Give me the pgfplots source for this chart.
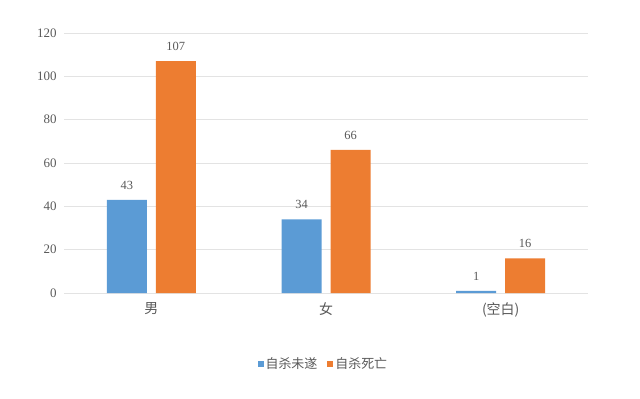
\documentclass[border=0pt]{standalone}
\usepackage{fontspec}
\setmainfont{Liberation Serif}
\newfontfamily\cjk{Noto Sans CJK SC}
\usepackage{pgfplots}
\pgfplotsset{compat=1.18}
\definecolor{cblue}{HTML}{5B9BD5}
\definecolor{corange}{HTML}{ED7D31}
\definecolor{gridc}{HTML}{E3E3E3}
\definecolor{txt}{HTML}{595959}
\begin{document}
\begin{tikzpicture}
\useasboundingbox (0,0) rectangle (640bp,399bp);
\begin{axis}[
  at={(64bp,106bp)}, anchor=south west,
  scale only axis, width=524bp, height=260bp,
  ybar, bar width=40bp,
  xmin=-0.5, xmax=2.5, ymin=0, ymax=120,
  ytick={0,20,...,120},
  xtick=data, xticklabels={男,女,(空白)},
  axis line style={draw=none},
  xmajorgrids=false,
  ymajorgrids=true, grid style={draw=gridc, line width=0.8bp},
  major tick length=0pt,
  tick label style={font=\fontsize{13}{14}\selectfont, text=txt},
  yticklabel style={xshift=-4bp},
  xticklabel style={font=\cjk\fontsize{14}{15}\selectfont, text=txt, yshift=-6bp},
  /pgf/number format/assume math mode=true,
  nodes near coords,
  nodes near coords style={font=\fontsize{12.5}{14}\selectfont, text=txt, yshift=7bp},
  legend style={at={(0.495,-0.273)}, anchor=center, draw=none, fill=none,
    legend columns=2, font=\cjk\fontsize{13}{14}\selectfont, text=txt,
    /tikz/every even column/.append style={column sep=8bp}},
  legend image code/.code={\fill[#1] (0bp,-3bp) rectangle (6bp,3bp);},
  legend cell align=left,
  clip=false,
]
\addplot[fill=cblue, draw=none, bar shift=-24.5bp] coordinates {(0,43) (1,34) (2,1)};
\addplot[fill=corange, draw=none, bar shift=24.5bp] coordinates {(0,107) (1,66) (2,16)};
\legend{自杀未遂,自杀死亡}
\end{axis}
\end{tikzpicture}
\end{document}
